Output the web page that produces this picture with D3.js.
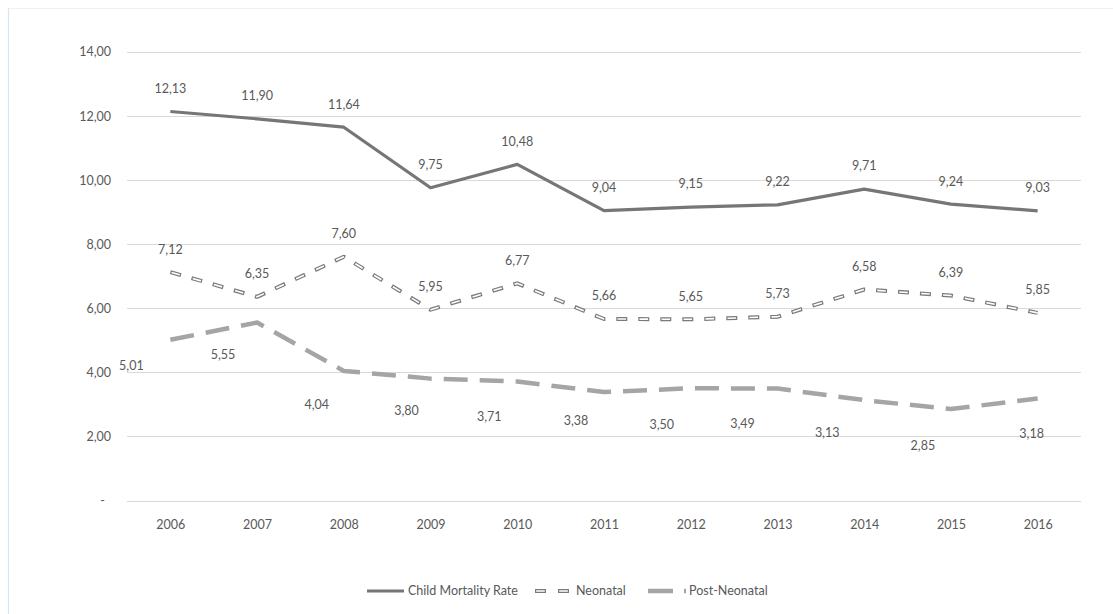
<!DOCTYPE html>
<html>
<head>
<meta charset="utf-8">
<script src="https://cdn.jsdelivr.net/npm/d3@7"></script>
<style>
  html, body { margin: 0; padding: 0; background: #fff; }
  svg { display: block; }
  text { font-family: Lato, "Noto Sans", sans-serif; fill: #595959; }
</style>
</head>
<body>
<svg id="chart" width="1113" height="614"></svg>
<script>
const years = ["2006","2007","2008","2009","2010","2011","2012","2013","2014","2015","2016"];
const childMortality = [12.13, 11.90, 11.64, 9.75, 10.48, 9.04, 9.15, 9.22, 9.71, 9.24, 9.03];
const neonatal = [7.12, 6.35, 7.60, 5.95, 6.77, 5.66, 5.65, 5.73, 6.58, 6.39, 5.85];
const postNeonatal = [5.01, 5.55, 4.04, 3.80, 3.71, 3.38, 3.50, 3.49, 3.13, 2.85, 3.18];
const yTicks = [0, 2, 4, 6, 8, 10, 12, 14];
const seriesNames = ["Child Mortality Rate", "Neonatal", "Post-Neonatal"];
// label nudges (px) for Post-Neonatal data labels, as placed in the original
const postLabelDx = [-39, -34, -27, -24, -28, -28, -29, -35, -37, -28, -6];
const postLabelDy = [26, 32, 34, 32, 35, 29, 36, 35, 33, 37, 35];

const FONT = 'Lato, "Noto Sans", sans-serif';
const FS = "12.5px";
const svg = d3.select("#chart");
const fmt = v => v === 0 ? "-" : d3.format(".2f")(v).replace(".", ",");

const x = d3.scalePoint().domain(years).range([127, 1081]).padding(0.5);
const y = d3.scaleLinear().domain([0, 14]).range([500.5, 51.5]);

// outer chart border (top & left visible)
svg.append("line").attr("x1", 8).attr("x2", 1113).attr("y1", 8.5).attr("y2", 8.5)
  .attr("stroke", "#f0f0f0").attr("stroke-width", 1);
svg.append("line").attr("x1", 8.5).attr("x2", 8.5).attr("y1", 8).attr("y2", 614)
  .attr("stroke", "#d6e6f6").attr("stroke-width", 1.2);

// gridlines
svg.append("g").selectAll("line").data(yTicks).join("line")
  .attr("x1", 127).attr("x2", 1081)
  .attr("y1", d => Math.round(y(d)) + 0.5).attr("y2", d => Math.round(y(d)) + 0.5)
  .attr("stroke", "#d9d9d9").attr("stroke-width", 1);

// y axis labels
const yAxis = d3.axisLeft(y).tickValues(yTicks).tickSize(0).tickFormat(fmt);
const gy = svg.append("g").attr("transform", "translate(111,0)").call(yAxis);
gy.select(".domain").remove();
gy.selectAll("text").attr("x", d => d === 0 ? -6 : 0).attr("dy", "0.35em")
  .style("font-size", FS).attr("fill", "#595959").style("font-family", FONT);

// x axis labels
const xAxis = d3.axisBottom(x).tickSize(0);
const gx = svg.append("g").attr("transform", "translate(0,525)").call(xAxis);
gx.select(".domain").remove();
gx.selectAll("text").attr("y", 0).attr("dy", "0.35em")
  .style("font-size", FS).attr("fill", "#595959").style("font-family", FONT);

const line = d3.line().x((d, i) => x(years[i])).y(d => y(d));

// Post-Neonatal: long dash light gray
svg.append("path").datum(postNeonatal).attr("d", line)
  .attr("fill", "none").attr("stroke", "#a5a5a5").attr("stroke-width", 4.5)
  .attr("stroke-dasharray", "24,12").attr("stroke-linejoin", "round");

// Neonatal: outlined dash (compound)
svg.append("path").datum(neonatal).attr("d", line)
  .attr("fill", "none").attr("stroke", "#7a7a7a").attr("stroke-width", 4)
  .attr("stroke-dasharray", "11,11").attr("stroke-linejoin", "round");
svg.append("path").datum(neonatal).attr("d", line)
  .attr("fill", "none").attr("stroke", "#ffffff").attr("stroke-width", 1.6)
  .attr("stroke-dasharray", "0,1.2,8.6,12.2").attr("stroke-linejoin", "round");

// Child Mortality: solid
svg.append("path").datum(childMortality).attr("d", line)
  .attr("fill", "none").attr("stroke", "#767676").attr("stroke-width", 3.2)
  .attr("stroke-linejoin", "round");

// data labels
const lbl = svg.append("g").style("font-size", FS).style("font-family", FONT).attr("text-anchor", "middle");
lbl.selectAll("text.c").data(childMortality).join("text").attr("class", "c")
  .attr("x", (d, i) => x(years[i])).attr("y", d => y(d) - 23).attr("dy", "0.35em")
  .text(fmt);
lbl.selectAll("text.n").data(neonatal).join("text").attr("class", "n")
  .attr("x", (d, i) => x(years[i])).attr("y", d => y(d) - 23).attr("dy", "0.35em")
  .text(fmt);
lbl.selectAll("text.p").data(postNeonatal).join("text").attr("class", "p")
  .attr("x", (d, i) => x(years[i]) + postLabelDx[i]).attr("y", (d, i) => y(d) + postLabelDy[i]).attr("dy", "0.35em")
  .text(fmt);

// legend
const ly = 591;
const leg = svg.append("g").style("font-size", FS).style("font-family", FONT);
const items = [
  { x0: 367, name: seriesNames[0], type: "solid" },
  { x0: 535, name: seriesNames[1], type: "outline" },
  { x0: 648, name: seriesNames[2], type: "long" }
];
items.forEach(it => {
  const g = leg.append("g");
  if (it.type === "solid") {
    g.append("line").attr("x1", it.x0).attr("x2", it.x0 + 37).attr("y1", ly).attr("y2", ly)
      .attr("stroke", "#767676").attr("stroke-width", 3.2);
  } else if (it.type === "outline") {
    g.append("line").attr("x1", it.x0).attr("x2", it.x0 + 37).attr("y1", ly).attr("y2", ly)
      .attr("stroke", "#7a7a7a").attr("stroke-width", 4).attr("stroke-dasharray", "11,12");
    g.append("line").attr("x1", it.x0).attr("x2", it.x0 + 37).attr("y1", ly).attr("y2", ly)
      .attr("stroke", "#fff").attr("stroke-width", 1.6).attr("stroke-dasharray", "0,1.2,8.6,13.2");
  } else {
    g.append("line").attr("x1", it.x0).attr("x2", it.x0 + 38).attr("y1", ly).attr("y2", ly)
      .attr("stroke", "#a5a5a5").attr("stroke-width", 4.5).attr("stroke-dasharray", "25,11");
  }
  g.append("text").attr("x", it.x0 + 41).attr("y", ly).attr("dy", "0.35em").text(it.name);
});
</script>
</body>
</html>
